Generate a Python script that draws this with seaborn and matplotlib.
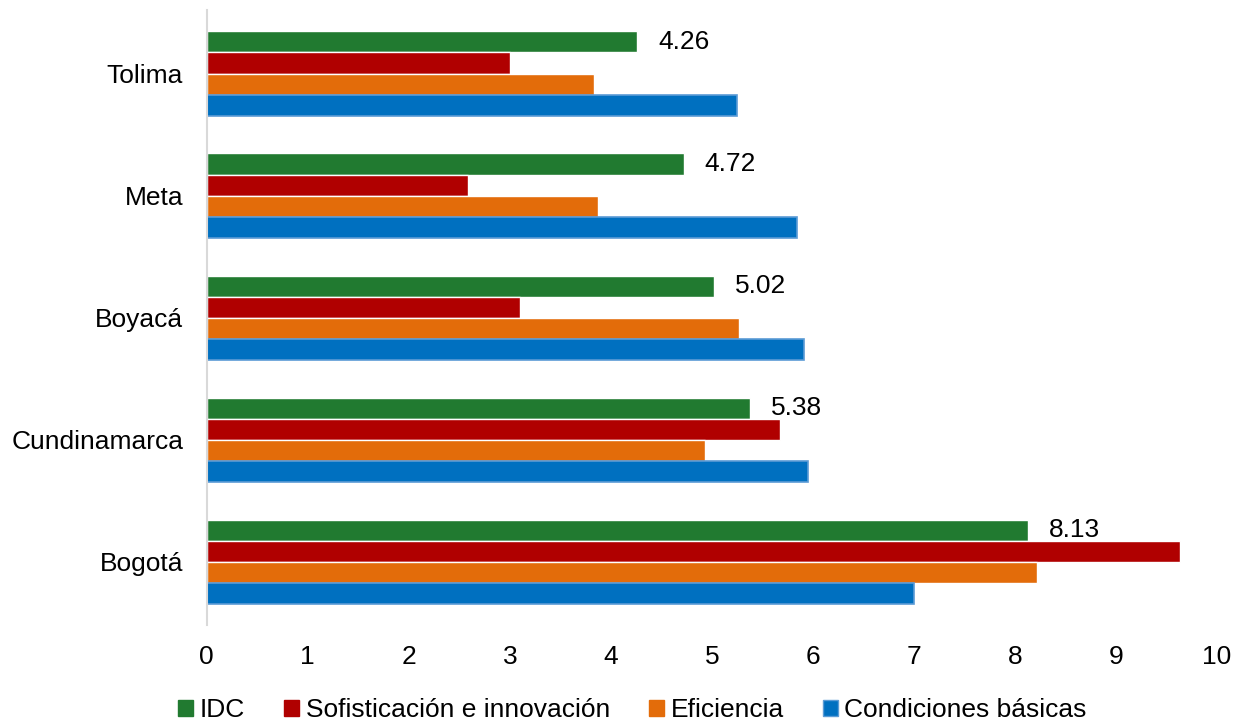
import matplotlib
matplotlib.use("Agg")
import matplotlib.pyplot as plt
import seaborn as sns
import pandas as pd
from matplotlib.patches import Patch

# Datos
regiones = ["Tolima", "Meta", "Boyacá", "Cundinamarca", "Bogotá"]
series = ["IDC", "Sofisticación e innovación", "Eficiencia", "Condiciones básicas"]
idc = [4.26, 4.72, 5.02, 5.38, 8.13]
sofisticacion = [3.00, 2.59, 3.10, 5.67, 9.63]
eficiencia = [3.83, 3.87, 5.27, 4.93, 8.22]
condiciones = [5.25, 5.84, 5.91, 5.95, 7.00]
colores = ["#217A30", "#B00000", "#E36C0A", "#0070C0"]

valores = [idc, sofisticacion, eficiencia, condiciones]
filas = []
for s, vals in zip(series, valores):
    for r, v in zip(regiones, vals):
        filas.append({"Region": r, "Serie": s, "Valor": v})
df = pd.DataFrame(filas)

sns.set_style("white")
plt.rcParams["font.family"] = ["Liberation Sans", "DejaVu Sans"]
plt.rcParams["text.color"] = "black"
tam = 19

fig = plt.figure(figsize=(12.38, 7.21), dpi=100)
ax = fig.add_axes([0.167, 0.133, 0.816, 0.853])

sns.barplot(data=df, y="Region", x="Valor", hue="Serie", order=regiones,
            hue_order=series, palette=colores, orient="h", width=0.69,
            dodge=True, legend=False, ax=ax, saturation=1)

# borde claro en las barras azules
for barra in ax.containers[3]:
    barra.set_edgecolor("#5B9BD5")
    barra.set_linewidth(1.2)

# etiquetas del IDC
for barra, v in zip(ax.containers[0], idc):
    y = barra.get_y() + barra.get_height() / 2
    ax.annotate(f"{v:.2f}", xy=(v, y), xytext=(15, 0), textcoords="offset points",
                va="center", ha="left", fontsize=tam, color="black")

ax.set_xlim(0, 10)
ax.set_ylim(4.52, -0.52)
ax.set_xticks(range(0, 11))
ax.set_xlabel("")
ax.set_ylabel("")
ax.tick_params(axis="both", length=0, labelsize=tam, colors="black")
ax.tick_params(axis="x", pad=14)
ax.tick_params(axis="y", pad=17)
for lado in ["top", "right", "bottom"]:
    ax.spines[lado].set_visible(False)
ax.spines["left"].set_color("#D9D9D9")
ax.spines["left"].set_linewidth(1.5)

manijas = [Patch(facecolor=c, edgecolor=("#5B9BD5" if i == 3 else c))
           for i, c in enumerate(colores)]
fig.legend(manijas, series, loc="lower center", ncol=4, frameon=False,
           fontsize=tam, handlelength=0.55, handleheight=0.55, handletextpad=0.25,
           columnspacing=1.5, bbox_to_anchor=(0.511, -0.035), labelcolor="black")

fig.savefig("out.png", dpi=100)
